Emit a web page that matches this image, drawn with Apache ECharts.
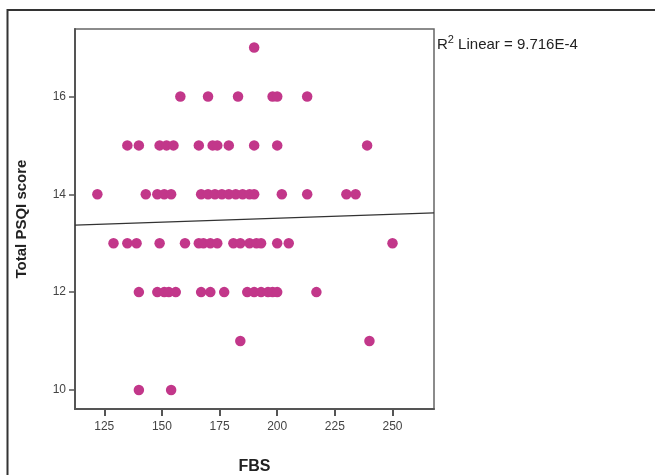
<!DOCTYPE html>
<html>
<head>
<meta charset="utf-8">
<script src="https://cdn.jsdelivr.net/npm/echarts@6/dist/echarts.min.js"></script>
<style>html,body{margin:0;padding:0;background:#fff;}#c{width:655px;height:475px;}</style>
</head>
<body>
<div id="c"></div>
<script>
// FBS values grouped by Total PSQI score
const score17 = [190];
const score16 = [158, 170, 183, 198, 200, 213];
const score15 = [135, 140, 149, 152, 155, 166, 172, 174, 179, 190, 200, 239];
const score14 = [122, 143, 148, 151, 154, 167, 170, 173, 176, 179, 182, 185, 188, 190, 202, 213, 230, 234];
const score13 = [129, 135, 139, 149, 160, 166, 168, 171, 174, 181, 184, 188, 191, 193, 200, 205, 250];
const score12 = [140, 148, 151, 153, 156, 167, 171, 177, 187, 190, 193, 196, 198, 200, 217];
const score11 = [184, 240];
const score10 = [140, 154];
const xTicks = [125, 150, 175, 200, 225, 250];
const yTicks = [10, 12, 14, 16];
const fitX = [112.3, 268];
const fitY = [13.37, 13.62];
const r2Label = '9.716E-4';

const groups = [[17, score17], [16, score16], [15, score15], [14, score14], [13, score13], [12, score12], [11, score11], [10, score10]];
const points = [];
groups.forEach(([s, arr]) => arr.forEach(v => points.push([v, s])));

const chart = echarts.init(document.getElementById('c'), null, {renderer: 'canvas'});
const font = 'Liberation Sans, Arial, sans-serif';
chart.setOption({
  animation: false,
  backgroundColor: '#fff',
  grid: {left: 75, right: 221, top: 29, bottom: 66, outerBoundsMode: 'none', containLabel: false, show: true, borderColor: '#666', borderWidth: 1.5, backgroundColor: 'transparent'},
  xAxis: {
    type: 'value', min: 112.3, max: 268,
    name: 'FBS', nameLocation: 'middle', nameGap: 50,
    nameTextStyle: {fontFamily: font, fontWeight: 'bold', fontSize: 16, color: '#222'},
    axisLine: {show: true, lineStyle: {color: '#555', width: 2}},
    axisTick: {show: true, length: 7, customValues: xTicks, lineStyle: {color: '#555', width: 2}},
    axisLabel: {customValues: xTicks, fontFamily: font, fontSize: 12, color: '#444', margin: 12},
    splitLine: {show: false}
  },
  yAxis: {
    type: 'value', min: 9.61, max: 17.38,
    name: 'Total PSQI score', nameLocation: 'middle', nameGap: 46, nameRotate: 90,
    nameTextStyle: {fontFamily: font, fontWeight: 'bold', fontSize: 15, color: '#222'},
    axisLine: {show: true, lineStyle: {color: '#555', width: 2}},
    axisTick: {show: true, length: 6, customValues: yTicks, lineStyle: {color: '#555', width: 1.5}},
    axisLabel: {customValues: yTicks, fontFamily: font, fontSize: 12, color: '#444', margin: 9},
    splitLine: {show: false}
  },
  series: [
    {
      type: 'scatter', data: points, symbolSize: 10.5,
      itemStyle: {color: '#C2378A', opacity: 1}
    },
    {
      type: 'line', data: fitX.map((x, i) => [x, fitY[i]]), symbol: 'none',
      lineStyle: {color: '#333', width: 1.2}
    }
  ],
  graphic: [
    {type: 'rect', shape: {x: 7.5, y: 10, width: 700, height: 500}, style: {fill: 'none', stroke: '#333', lineWidth: 2}, silent: true},
    {type: 'text', left: 437, top: 34, style: {
      text: '{r|R}{s|2}{r| Linear = ' + r2Label + '}',
      rich: {
        r: {fontFamily: font, fontSize: 15, fill: '#222', verticalAlign: 'bottom'},
        s: {fontFamily: font, fontSize: 11, fill: '#222', verticalAlign: 'top', padding: [0, 0, 7, 0]}
      }
    }}
  ]
});
</script>
</body>
</html>
